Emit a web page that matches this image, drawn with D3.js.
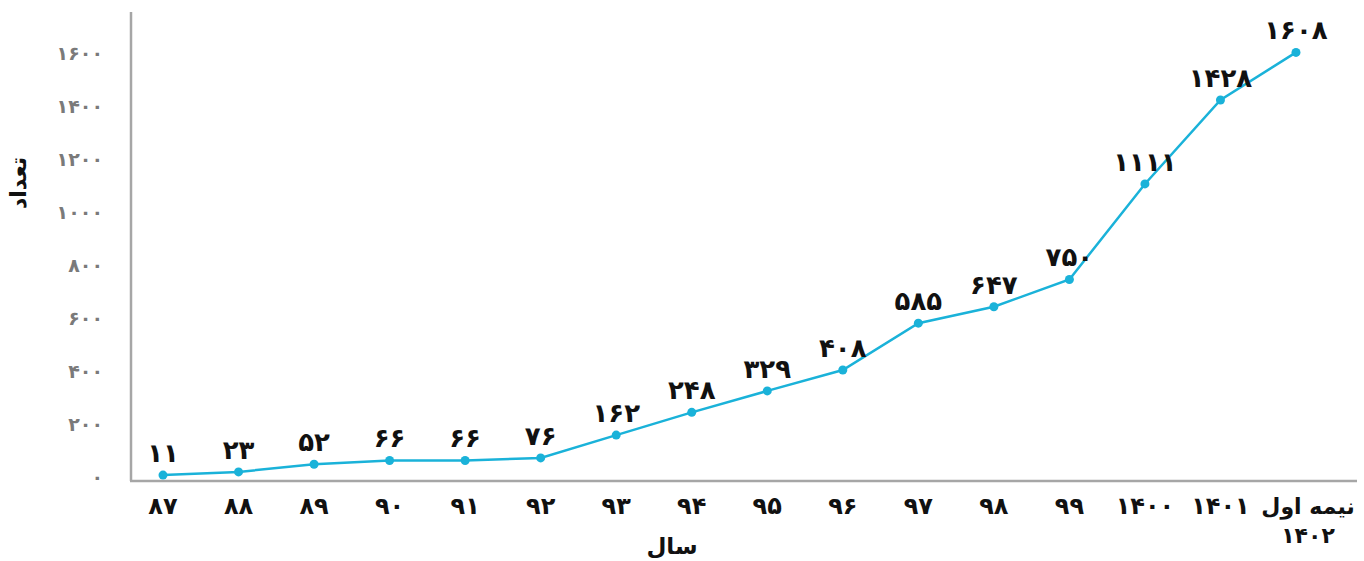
<!DOCTYPE html>
<html lang="fa">
<head>
<meta charset="utf-8">
<script src="https://cdn.jsdelivr.net/npm/d3@7"></script>
<style>
  html, body { margin: 0; padding: 0; background: #fff; }
  svg { display: block; font-family: "DejaVu Sans", "Noto Sans", sans-serif; }
</style>
</head>
<body>
<svg id="chart" width="1364" height="561"></svg>
<script>
// Years (Persian calendar) and yearly counts
const categories = ["87", "88", "89", "90", "91", "92", "93", "94", "95", "96", "97", "98", "99", "1400", "1401", "نیمه اول|1402"];
const values = [11, 23, 52, 66, 66, 76, 162, 248, 329, 408, 585, 647, 750, 1111, 1428, 1608];
const yTicks = [0, 200, 400, 600, 800, 1000, 1200, 1400, 1600];
const xTitle = "سال";
const yTitle = "تعداد";

const faDigits = "۰۱۲۳۴۵۶۷۸۹";
const fa = s => String(s).replace(/[0-9]/g, d => faDigits[+d]);

const svg = d3.select("#chart");
const lineColor = "#1ab2d9";
const axisColor = "#a6a6a6";

const x = d3.scalePoint().domain(categories).range([163, 1296]);
const y = d3.scaleLinear().domain([0, 1600]).range([478, 54.5]);

// axis lines
svg.append("line")
  .attr("x1", 131).attr("x2", 131).attr("y1", 12).attr("y2", 481)
  .attr("stroke", axisColor).attr("stroke-width", 2.5);
svg.append("line")
  .attr("x1", 130).attr("x2", 1357).attr("y1", 481).attr("y2", 481)
  .attr("stroke", axisColor).attr("stroke-width", 2.5);

// y tick labels
svg.append("g").selectAll("text").data(yTicks).join("text")
  .attr("x", 103)
  .attr("y", d => y(d))
  .attr("dy", "0.3em")
  .attr("text-anchor", "end")
  .attr("fill", "#7a7a7a")
  .attr("font-size", 19)
  .attr("font-weight", "bold")
  .text(d => fa(d));

// x tick labels (multi-line where needed)
const xl = svg.append("g").selectAll("text").data(categories).join("text")
  .attr("text-anchor", "middle")
  .attr("fill", "#111")
  .attr("font-size", d => d.includes("|") ? 22 : 24)
  .attr("font-weight", "bold");
xl.each(function(d) {
  const parts = d.split("|");
  const t = d3.select(this);
  const cx = x(d) + (parts.length > 1 ? 12 : 0);
  parts.forEach((p, i) => {
    t.append("tspan")
      .attr("x", cx)
      .attr("y", 507 + i * 29)
      .attr("dy", "0.3em")
      .text(fa(p));
  });
});

// line
const line = d3.line().x((d, i) => x(categories[i])).y(d => y(d));
svg.append("path")
  .datum(values)
  .attr("d", line)
  .attr("fill", "none")
  .attr("stroke", lineColor)
  .attr("stroke-width", 2.5);

// points
svg.append("g").selectAll("circle").data(values).join("circle")
  .attr("cx", (d, i) => x(categories[i]))
  .attr("cy", d => y(d))
  .attr("r", 4.5)
  .attr("fill", lineColor);

// value labels
svg.append("g").selectAll("text").data(values).join("text")
  .attr("x", (d, i) => x(categories[i]))
  .attr("y", d => y(d) - 21)
  .attr("dy", "0.3em")
  .attr("text-anchor", "middle")
  .attr("fill", "#111")
  .attr("font-size", 26)
  .attr("font-weight", "bold")
  .text(d => fa(d));

// axis titles
svg.append("text")
  .attr("x", 672).attr("y", 547)
  .attr("dy", "0.3em")
  .attr("text-anchor", "middle")
  .attr("font-size", 23).attr("font-weight", "bold").attr("fill", "#111")
  .text(xTitle);
svg.append("text")
  .attr("transform", "translate(19,183) rotate(-90)")
  .attr("dy", "0.3em")
  .attr("text-anchor", "middle")
  .attr("font-size", 22).attr("font-weight", "bold").attr("fill", "#111")
  .text(yTitle);
</script>
</body>
</html>
